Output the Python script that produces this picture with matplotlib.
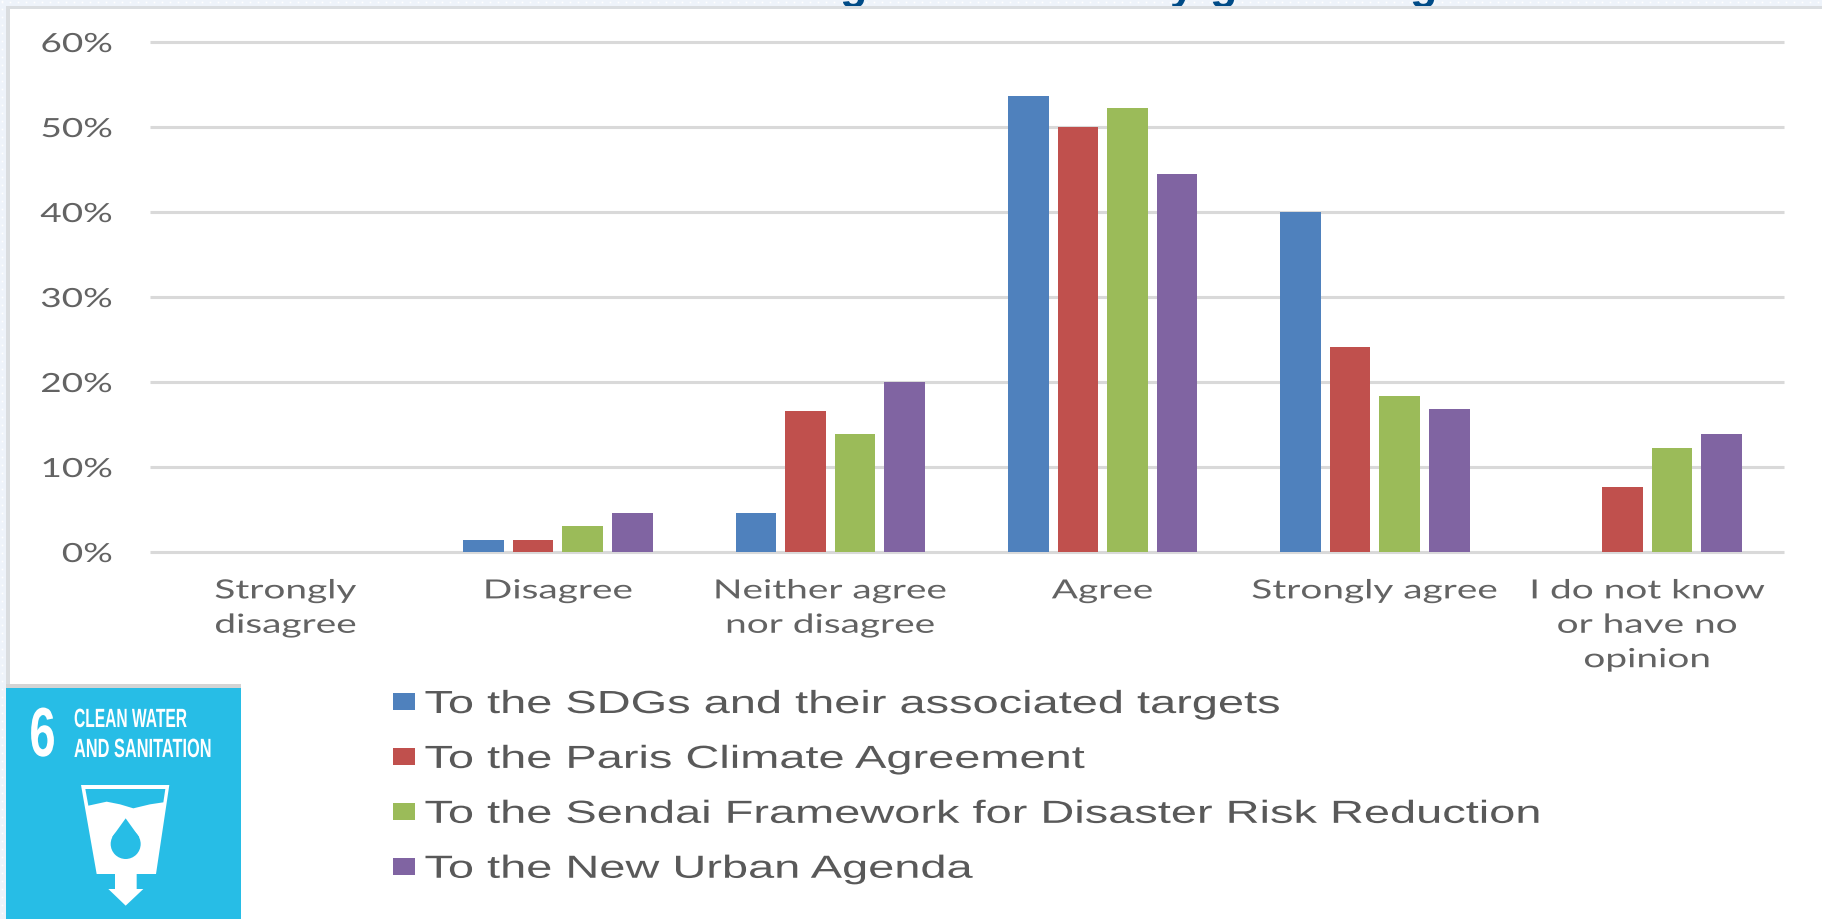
import numpy as np
import matplotlib
matplotlib.use("Agg")
import matplotlib.pyplot as plt
from matplotlib.patches import Rectangle, Polygon, Circle
from matplotlib.patheffects import AbstractPathEffect
from matplotlib.transforms import Affine2D

categories = ["Strongly\ndisagree", "Disagree", "Neither agree\nnor disagree", "Agree",
              "Strongly agree", "I do not know\nor have no\nopinion"]
series_names = ["To the SDGs and their associated targets", "To the Paris Climate Agreement",
                "To the Sendai Framework for Disaster Risk Reduction", "To the New Urban Agenda"]
sdgs = [0, 1.4, 4.6, 53.7, 40.0, 0]
paris = [0, 1.4, 16.6, 50.0, 24.1, 7.6]
sendai = [0, 3.1, 13.9, 52.2, 18.4, 12.2]
urban = [0, 4.6, 20.0, 44.5, 16.8, 13.9]
colors = ["#4F81BD", "#C0504D", "#9BBB59", "#8064A2"]
y_ticks = [0, 10, 20, 30, 40, 50, 60]

W, H = 1822, 920


class StretchX(AbstractPathEffect):
    """Stretch a text horizontally about display x0 (the reference's text is a stretched bitmap)."""
    def __init__(self, sx, x0):
        super().__init__()
        self.sx, self.x0 = sx, x0

    def draw_path(self, renderer, gc, tpath, affine, rgbFace=None):
        t = affine + Affine2D().translate(-self.x0, 0).scale(self.sx, 1).translate(self.x0, 0)
        renderer.draw_path(gc, tpath, t, rgbFace)


fig = plt.figure(figsize=(W / 100, H / 100), dpi=100, facecolor="white")

# page furniture in pixel coordinates
bg = fig.add_axes([0, 0, 1, 1], zorder=0)
bg.set_xlim(0, W); bg.set_ylim(H, 0); bg.axis("off")
band = "#EEF3FA"
bg.add_patch(Rectangle((0, 0), W, 8, fc=band, ec="none"))
bg.add_patch(Rectangle((0, 0), 6, H, fc=band, ec="none"))
dx = np.arange(2, W, 8); bg.plot(dx, np.full_like(dx, 3), ls="", marker="s", ms=1.2, mfc="white", mec="none")
dy = np.arange(2, H, 8); bg.plot(np.full_like(dy, 2), dy, ls="", marker="s", ms=1.2, mfc="white", mec="none")
bg.add_patch(Rectangle((6, 7), W - 6, 3, fc="#DADDE0", ec="none", zorder=3.5))
bg.add_patch(Rectangle((6, 7), 4, 680, fc="#DADDE0", ec="none", zorder=3.5))
bg.add_patch(Rectangle((6, 685), 235, 4, fc="#D4D4D4", ec="none", zorder=3.5))

# clipped title descenders
for gx, ch in zip([853, 1182, 1223, 1423], "gygg"):
    bg.text(gx, -1.5, ch, color="#004B87", fontsize=32, fontweight="bold", family="Liberation Sans",
            ha="center", va="baseline", clip_on=True)
bg.add_patch(Rectangle((10, 10), W, 675, fc="white", ec="none", zorder=3))

# logo
blue = "#27BDE6"
def z(x, y):
    return (x / 3, 660 + y / 3)
bg.add_patch(Rectangle((6, 689), 235, 231, fc=blue, ec="none", zorder=4))
t6 = bg.text(42.5, 757, "6", color="white", fontsize=50, fontweight="bold", family="Liberation Sans",
             ha="center", va="baseline", zorder=5)
t6.set_path_effects([StretchX(0.68, 42.5)])
t1 = bg.text(74, 728, "CLEAN WATER", color="white", fontsize=19, fontweight="bold",
             family="Liberation Sans", ha="left", va="baseline", zorder=5)
t1.set_path_effects([StretchX(0.59, 74)])
t2 = bg.text(74, 758, "AND SANITATION", color="white", fontsize=19, fontweight="bold",
             family="Liberation Sans", ha="left", va="baseline", zorder=5)
t2.set_path_effects([StretchX(0.62, 74)])
cup = [(243, 378), (508, 378), (468, 645), (410, 645), (410, 690), (430, 690), (377, 740),
       (325, 690), (345, 690), (345, 645), (290, 645)]
bg.add_patch(Polygon([z(*p) for p in cup], fc="white", ec="none", zorder=5))
air = [(256, 390), (496, 390), (490, 430), (450, 436), (400, 448), (360, 436), (320, 428), (265, 440)]
bg.add_patch(Polygon([z(*p) for p in air], fc=blue, ec="none", zorder=6))
cx, cy = z(377, 555)
bg.add_patch(Circle((cx, cy), 15, fc=blue, ec="none", zorder=6))
bg.add_patch(Polygon([z(377, 478), z(336, 535), z(418, 535)], fc=blue, ec="none", zorder=6))

# chart
ax = fig.add_axes([150 / W, 1 - 553 / H, (1784 - 150) / W, (553 - 43) / H], zorder=2)
ax.patch.set_alpha(0)
x = np.arange(len(categories))
bw, pitch = 0.149, 0.182
handles = []
for i, (vals, c, name) in enumerate(zip([sdgs, paris, sendai, urban], colors, series_names)):
    handles.append(ax.bar(x + (i - 1.5) * pitch, vals, bw, color=c, label=name, zorder=3))
ax.set_xlim(-0.498, 5.502)
ax.set_ylim(0, 60)
ax.set_yticks(y_ticks, [f"{v}%" for v in y_ticks])
ax.set_xticks(x, categories)
ax.grid(axis="y", color="#D9D9D9", lw=2.2, zorder=1)
for g in ax.get_ygridlines():
    g.set_clip_on(False)
    g.set_solid_capstyle("butt")
ax.set_axisbelow(True)
for s in ax.spines.values():
    s.set_visible(False)
ax.tick_params(axis="both", length=0, labelcolor="#636363")
ax.tick_params(axis="x", pad=19)
ax.tick_params(axis="y", pad=27)
for t in ax.get_yticklabels():
    t.set_fontsize(19); t.set_family("Lato")
    t.set_path_effects([StretchX(1.4, 150 - 38)])
for i, t in enumerate(ax.get_xticklabels()):
    t.set_fontsize(19); t.set_family("Lato"); t.set_linespacing(1.47)
    cx_disp = ax.transData.transform((i, 0))[0]
    t.set_path_effects([StretchX(1.47, cx_disp)])

fs = 23
leg = ax.legend(handles=handles, loc="upper left", bbox_to_anchor=(393 / W, 1 - 691 / H),
                bbox_transform=fig.transFigure, frameon=False, ncol=1,
                prop={"family": "Liberation Sans", "size": fs},
                labelcolor="#595959", borderpad=0, borderaxespad=0, handlelength=0.69, handleheight=0.47,
                handletextpad=0.29, labelspacing=0.78)
for t in leg.get_texts():
    t.set_path_effects([StretchX(1.47, 424)])

fig.savefig("out.png", dpi=100)
